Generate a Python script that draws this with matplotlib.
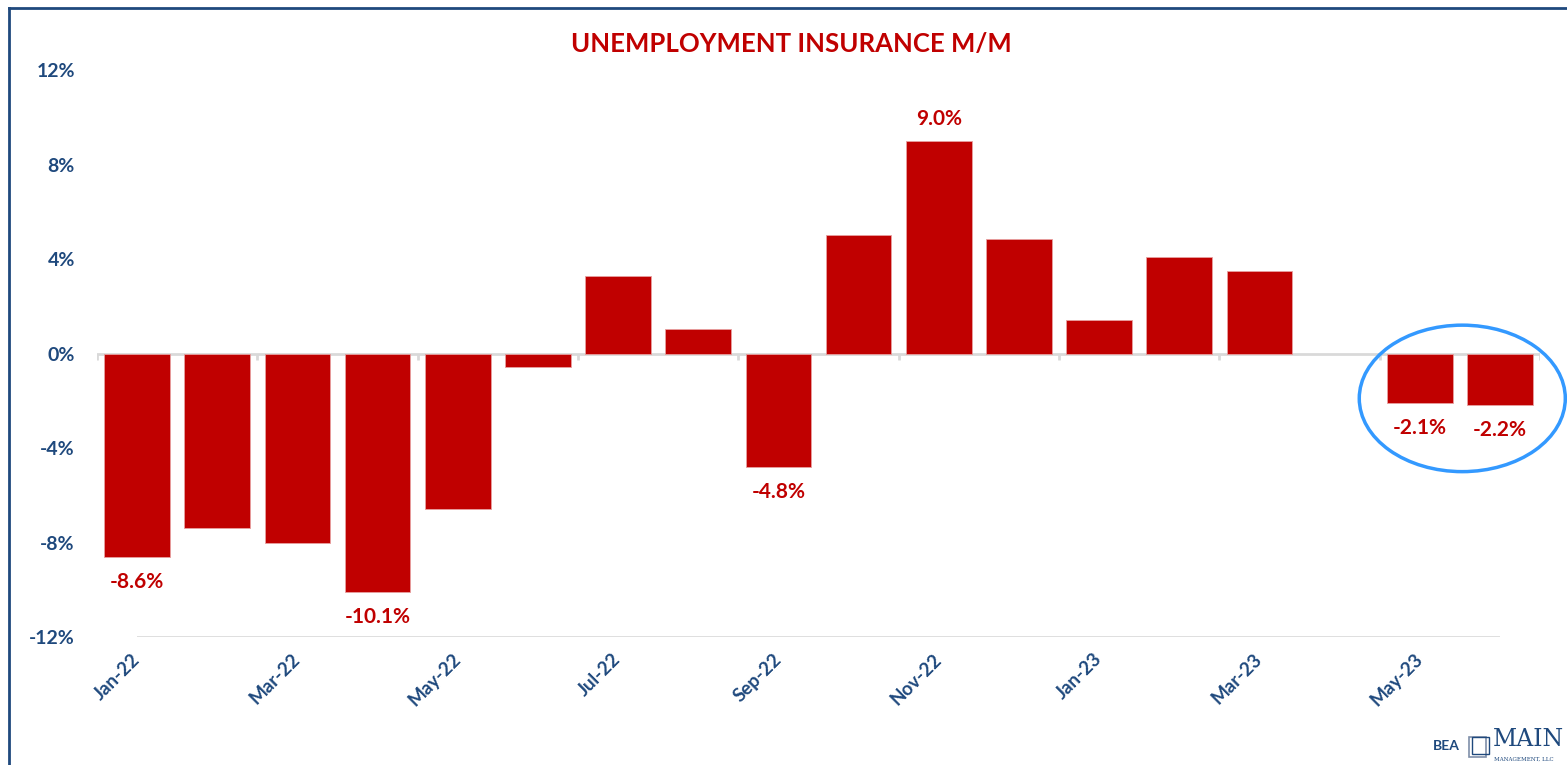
import numpy as np
import matplotlib
matplotlib.use("Agg")
import matplotlib.pyplot as plt
from matplotlib.patches import Ellipse, Rectangle
from matplotlib.lines import Line2D

plt.rcParams['font.family'] = ['Lato', 'DejaVu Sans']

months = ['Jan-22', 'Feb-22', 'Mar-22', 'Apr-22', 'May-22', 'Jun-22',
          'Jul-22', 'Aug-22', 'Sep-22', 'Oct-22', 'Nov-22', 'Dec-22',
          'Jan-23', 'Feb-23', 'Mar-23', 'Apr-23', 'May-23', 'Jun-23']
mom_pct = [-8.6, -7.4, -8.0, -10.1, -6.6, -0.55,
           3.3, 1.05, -4.8, 5.0, 9.0, 4.85,
           1.4, 4.1, 3.5, np.nan, -2.1, -2.2]
labelled = ['Jan-22', 'Apr-22', 'Sep-22', 'Nov-22', 'May-23', 'Jun-23']
y_ticks = [-12, -8, -4, 0, 4, 8, 12]

red = '#C00000'
navy = '#1F497D'
grey = '#D9D9D9'

fig = plt.figure(figsize=(15.67, 7.65), dpi=100)
ax = fig.add_axes([0.0619, 0.1673, 0.9209, 0.7412])

x = np.arange(len(months))
vals = np.array(mom_pct, dtype=float)
ok = ~np.isnan(vals)
ax.bar(x[ok], vals[ok], width=0.82, color=red, edgecolor='#E8A0A0',
       linewidth=0.6, zorder=3)

ax.set_xlim(-0.5, len(months) - 0.5)
ax.set_ylim(-12, 12)

# zero line with small ticks between every second category
ax.axhline(0, color=grey, lw=2, zorder=2)
ax.vlines(np.arange(-0.5, len(months), 2), -0.28, 0, color=grey, lw=2, zorder=2)
ax.hlines(-12, 0, 17, color=grey, lw=1.2, zorder=1)

for i, (m, v) in enumerate(zip(months, vals)):
    if m in labelled:
        off = 16 if v > 0 else -18
        ax.annotate(f'{v:.1f}%', (i, v), xytext=(0, off), textcoords='offset points',
                    ha='center', va='center', color=red, fontsize=15,
                    fontweight='bold')

ax.set_yticks(y_ticks)
ax.set_yticklabels([f'{t}%' for t in y_ticks])
ax.set_xticks(x[::2])
ax.set_xticklabels(months[::2])
ax.tick_params(axis='y', length=0, pad=16, labelsize=14, labelcolor=navy)
ax.tick_params(axis='x', length=0, pad=14, labelsize=13.5, labelcolor=navy)
for lab in ax.get_yticklabels():
    lab.set_fontweight('bold')
for lab in ax.get_xticklabels():
    lab.set_fontweight('bold')
    lab.set_rotation(45)
    lab.set_ha('right')
    lab.set_va('center')
    lab.set_rotation_mode('anchor')

for s in ax.spines.values():
    s.set_visible(False)

ax.add_patch(Ellipse((16.53, -1.9), 2.57, 6.2, fill=False, edgecolor='#3399FF',
                     lw=2.5, clip_on=False, zorder=4))

fig.text(0.505, 0.942, 'UNEMPLOYMENT INSURANCE M/M', ha='center', va='center',
         color=red, fontsize=18.5, fontweight='bold')

# outer frame (top and left edges)
fig.add_artist(Line2D([9 / 1567, 9 / 1567], [0, 1 - 8 / 765], color=navy, lw=2))
fig.add_artist(Line2D([9 / 1567, 1], [1 - 8 / 765, 1 - 8 / 765], color=navy, lw=2))

# source / logo
fig.text(0.9145, 0.017, 'BEA', color=navy, fontsize=10, fontweight='bold',
         ha='left', va='bottom')
fig.add_artist(Rectangle((0.9375, 0.010), 0.0105, 0.026, fill=False,
                         edgecolor='#7F8FA9', lw=1.2))
fig.add_artist(Rectangle((0.9395, 0.015), 0.0105, 0.022, fill=False,
                         edgecolor=navy, lw=1))
fig.text(0.9525, 0.018, 'MAIN', color=navy, fontsize=17, family='DejaVu Serif',
         ha='left', va='bottom')
fig.text(0.9535, 0.004, 'MANAGEMENT, LLC', color=navy, fontsize=4,
         family='DejaVu Serif', ha='left', va='bottom')

fig.savefig('out.png', dpi=100, facecolor='white')
